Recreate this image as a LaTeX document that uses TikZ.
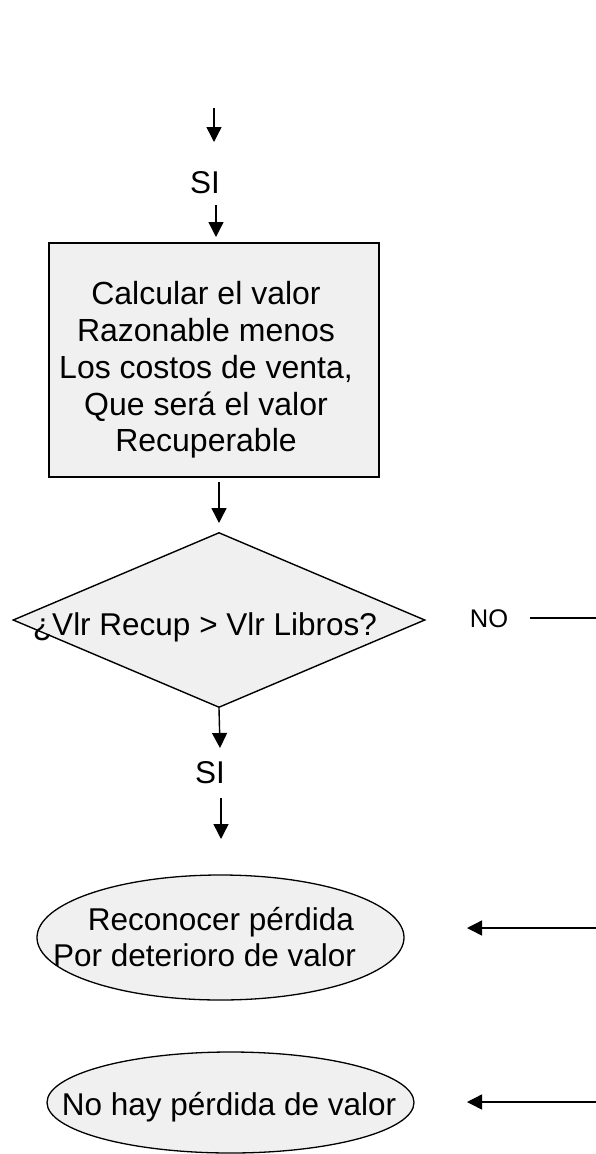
\documentclass[tikz,border=0pt]{standalone}
\usepackage{fontspec}
\setmainfont{Liberation Sans}
\usetikzlibrary{arrows.meta,shapes.geometric}

\definecolor{boxfill}{HTML}{F0F0F0}

\tikzset{
  flowline/.style={line width=1.4pt, -{Triangle[length=15pt,width=15pt]}},
  plainline/.style={line width=1.1pt},
  procbox/.style={draw, line width=1.5pt, fill=boxfill, rectangle, inner sep=0pt,
    minimum width=330pt, minimum height=234pt},
  decision/.style={draw, line width=1.4pt, fill=boxfill, diamond, inner sep=0pt,
    minimum width=412pt, minimum height=175pt},
  terminal/.style={draw, line width=1.3pt, fill=boxfill, ellipse, inner sep=0pt},
  bigtext/.style={inner sep=0pt, align=center, font=\fontsize{31.5}{36.75}\selectfont},
  smalltext/.style={inner sep=0pt, font=\fontsize{25.5}{30}\selectfont},
}

\begin{document}
\begin{tikzpicture}[x=1pt, y=-1pt]
  \useasboundingbox (0,0) rectangle (596,1154);
  \fill[white] (0,0) rectangle (596,1154);

  % shapes
  \node[procbox] (calc) at (214,360) {};
  \node[bigtext, font=\fontsize{32}{36.75}\selectfont] (calctext) at (206,370)
    {Calcular el valor\\Razonable menos\\Los costos de venta,\\Que será el valor\\Recuperable};

  \node[decision] (dec) at (219,620) {};
  \node[bigtext, anchor=base] (dectext) at (205,635) {¿Vlr Recup > Vlr Libros?};

  \node[terminal, minimum width=367pt, minimum height=125pt] (loss) at (220.5,937.5) {};
  \node[bigtext] (losstext) at (221,937)
    {Reconocer pérdida\\Por deterioro de valor\hspace*{33pt}};

  \node[terminal, minimum width=367pt, minimum height=101pt] (noloss) at (230.5,1102.5) {};
  \node[bigtext, anchor=base] (nolosstext) at (229,1115) {No hay pérdida de valor};

  % labels
  \node[bigtext, anchor=base] (si1) at (205,193) {SI};
  \node[bigtext, anchor=base] (si2) at (210,783) {SI};
  \node[smalltext, anchor=base] (no) at (489,627) {NO};

  % connector ends
  \coordinate (a1s) at (214,108);
  \coordinate (a1e) at (214,142);
  \coordinate (a2s) at (216,205);
  \coordinate (a2e) at (216,237);
  \coordinate (a3s) at (219,482);
  \coordinate (a3e) at (219,523);
  \coordinate (a4e) at (220,748);
  \coordinate (a5s) at (221,798);
  \coordinate (a5e) at (221,839);
  \coordinate (nos) at (530,618);
  \coordinate (noe) at (596,618);
  \coordinate (r1s) at (596,928);
  \coordinate (r1e) at (467,928);
  \coordinate (r2s) at (596,1102);
  \coordinate (r2e) at (467,1102);

  % connectors
  \draw[flowline] (a1s) -- (a1e);
  \draw[flowline] (a2s) -- (a2e);
  \draw[flowline] (a3s) -- (a3e);
  \draw[flowline] (dec.south) -- (a4e);
  \draw[flowline] (a5s) -- (a5e);
  \draw[plainline] (nos) -- (noe);
  \draw[flowline] (r1s) -- (r1e);
  \draw[flowline] (r2s) -- (r2e);
\end{tikzpicture}
\end{document}
